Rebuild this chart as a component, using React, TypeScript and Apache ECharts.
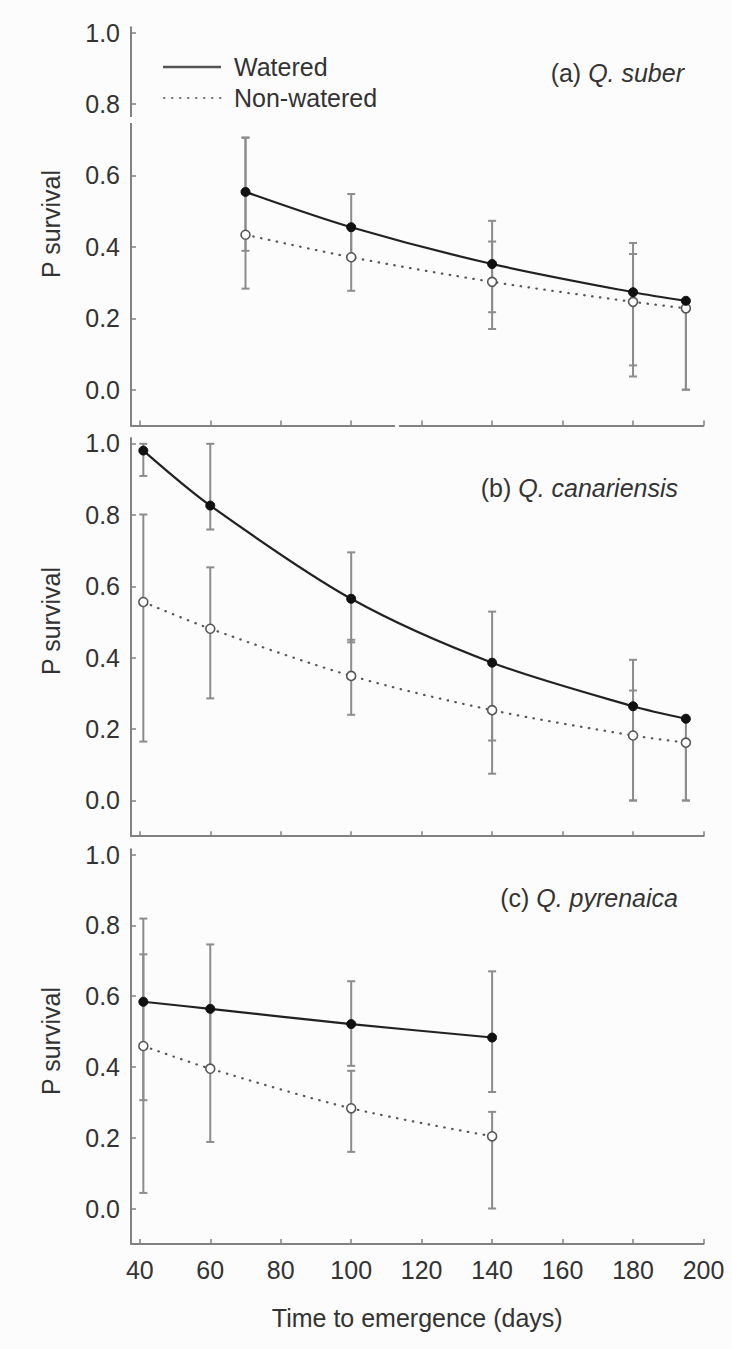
import React, { useEffect, useRef } from "react";
import * as echarts from "echarts";

const xTicks = [40, 60, 80, 100, 120, 140, 160, 180, 200];
const yTicks = [0, 0.2, 0.4, 0.6, 0.8, 1.0];

// (a) Q. suber
const daysA = [70, 100, 140, 180, 195];
const wateredA = [0.554, 0.455, 0.352, 0.273, 0.249];
const wateredLowA = [0.389, 0.371, 0.217, 0.068, 0.0];
const wateredHighA = [0.706, 0.548, 0.473, 0.411, 0.249];
const nonA = [0.434, 0.371, 0.302, 0.246, 0.228];
const nonLowA = [0.283, 0.277, 0.17, 0.037, 0.0];
const nonHighA = [0.706, 0.456, 0.415, 0.38, 0.228];

// (b) Q. canariensis
const daysB = [41, 60, 100, 140, 180, 195];
const wateredB = [0.98, 0.826, 0.565, 0.386, 0.264, 0.229];
const wateredLowB = [0.909, 0.759, 0.443, 0.168, 0.0, 0.0];
const wateredHighB = [0.999, 0.999, 0.695, 0.529, 0.394, 0.229];
const nonB = [0.556, 0.481, 0.349, 0.253, 0.182, 0.162];
const nonLowB = [0.165, 0.286, 0.24, 0.075, 0.0, 0.0];
const nonHighB = [0.801, 0.653, 0.45, 0.386, 0.308, 0.162];

// (c) Q. pyrenaica
const daysC = [41, 60, 100, 140];
const wateredC = [0.584, 0.564, 0.521, 0.483];
const wateredLowC = [0.306, 0.395, 0.403, 0.329];
const wateredHighC = [0.819, 0.746, 0.642, 0.67];
const nonC = [0.459, 0.395, 0.283, 0.204];
const nonLowC = [0.044, 0.188, 0.16, 0.0];
const nonHighC = [0.718, 0.564, 0.389, 0.273];

const panelTitles = ["(a) {i|Q. suber}", "(b) {i|Q. canariensis}", "(c) {i|Q. pyrenaica}"];
const legendNames = ["Watered", "Non-watered"];
const yTitle = "P survival";
const xTitle = "Time to emergence (days)";

const FONT = "'Liberation Sans', Arial, Helvetica, sans-serif";
const FS = 25;
const BG = "#fcfcfc";
const AXIS = "#828282";
const TEXT = "#333333";

export default function App() {
  const ref = useRef<HTMLDivElement>(null);

  useEffect(() => {
    if (!ref.current) return;
    const chart = echarts.init(ref.current, undefined, { renderer: "svg" });

    const panels = [
      { days: daysA, w: wateredA, wl: wateredLowA, wh: wateredHighA, n: nonA, nl: nonLowA, nh: nonHighA },
      { days: daysB, w: wateredB, wl: wateredLowB, wh: wateredHighB, n: nonB, nl: nonLowB, nh: nonHighB },
      { days: daysC, w: wateredC, wl: wateredLowC, wh: wateredHighC, n: nonC, nl: nonLowC, nh: nonHighC },
    ];

    const grids = [
      { left: 131, right: 28.5, top: 27.3, height: 398.1 },
      { left: 131, right: 28.5, top: 438.1, height: 398.1 },
      { left: 131, right: 28.5, top: 849.2, height: 394.7 },
    ];

    const xAxes = grids.map((_, i) => ({
      gridIndex: i,
      type: "value",
      min: 37.5,
      max: 200,
      position: "bottom",
      axisLine: { show: true, onZero: false, lineStyle: { color: AXIS, width: 2 } },
      axisTick: { show: true, inside: true, length: 5, customValues: xTicks, lineStyle: { color: AXIS, width: 1.5 } },
      axisLabel: {
        show: i === 2,
        customValues: xTicks,
        fontSize: FS,
        fontFamily: FONT,
        color: TEXT,
        margin: 14,
      },
      splitLine: { show: false },
      name: i === 2 ? xTitle : "",
      nameLocation: "middle",
      nameGap: 62,
      nameTextStyle: { fontSize: FS, fontFamily: FONT, color: TEXT },
    }));

    const yAxes = grids.map((_, i) => ({
      gridIndex: i,
      type: "value",
      min: -0.1,
      max: 1.015,
      axisLine: { show: true, onZero: false, lineStyle: { color: AXIS, width: 2 } },
      axisTick: { show: true, inside: true, length: 5, customValues: yTicks, lineStyle: { color: AXIS, width: 1.5 } },
      axisLabel: {
        customValues: yTicks,
        formatter: (v: number) => v.toFixed(1),
        fontSize: FS,
        fontFamily: FONT,
        color: TEXT,
        margin: 11,
      },
      splitLine: { show: false },
    }));

    const errorRender = (params: any, api: any) => {
      const x = api.value(0);
      const lo = api.value(1);
      const hi = api.value(2);
      const top = api.coord([x, hi]);
      const bot = api.coord([x, lo]);
      const w = 4;
      const style = { stroke: "#8c8c8c", lineWidth: 2, fill: "none" };
      return {
        type: "group",
        children: [
          { type: "line", shape: { x1: top[0], y1: top[1], x2: bot[0], y2: bot[1] }, style },
          { type: "line", shape: { x1: top[0] - w, y1: top[1], x2: top[0] + w, y2: top[1] }, style },
          { type: "line", shape: { x1: bot[0] - w, y1: bot[1], x2: bot[0] + w, y2: bot[1] }, style },
        ],
      };
    };

    const series: any[] = [];
    panels.forEach((p, i) => {
      series.push({
        type: "custom",
        name: legendNames[1] + " error",
        xAxisIndex: i,
        yAxisIndex: i,
        z: 1,
        renderItem: errorRender,
        encode: { x: 0, y: [1, 2] },
        data: p.days.map((d, k) => [d, p.nl[k], p.nh[k]]),
      });
      series.push({
        type: "custom",
        name: legendNames[0] + " error",
        xAxisIndex: i,
        yAxisIndex: i,
        z: 1,
        renderItem: errorRender,
        encode: { x: 0, y: [1, 2] },
        data: p.days.map((d, k) => [d, p.wl[k], p.wh[k]]),
      });
      series.push({
        type: "line",
        name: legendNames[1],
        xAxisIndex: i,
        yAxisIndex: i,
        z: 3,
        smooth: 0.3,
        symbol: "circle",
        symbolSize: 9,
        showSymbol: true,
        lineStyle: { color: "#555", width: 2.2, type: [0.5, 7.5], cap: "round" },
        itemStyle: { color: "#ffffff", borderColor: "#555", borderWidth: 1.6 },
        data: p.days.map((d, k) => [d, p.n[k]]),
      });
      series.push({
        type: "line",
        name: legendNames[0],
        xAxisIndex: i,
        yAxisIndex: i,
        z: 4,
        smooth: 0.3,
        symbol: "circle",
        symbolSize: 9,
        showSymbol: true,
        lineStyle: { color: "#222", width: 2.2 },
        itemStyle: { color: "#111", borderColor: "#111", borderWidth: 1 },
        data: p.days.map((d, k) => [d, p.w[k]]),
      });
    });

    const titlePos = [
      { x: 684, y: 73 },
      { x: 678, y: 488 },
      { x: 678, y: 898 },
    ];
    const yTitleCenters = [224, 621, 1041];

    const graphic: any[] = [
      // axis breaks in panel (a)
      { type: "rect", z: 100, shape: { x: 125, y: 117, width: 12, height: 6 }, style: { fill: BG } },
      { type: "rect", z: 100, shape: { x: 395, y: 419, width: 4, height: 12 }, style: { fill: BG } },
      // legend
      { type: "line", z: 100, shape: { x1: 163, y1: 67, x2: 221, y2: 67 }, style: { stroke: "#555", lineWidth: 2.5 } },
      {
        type: "line",
        z: 100,
        shape: { x1: 164, y1: 98, x2: 221, y2: 98 },
        style: { stroke: "#777", lineWidth: 2.2, lineDash: [0.5, 7.5], lineCap: "round" },
      },
      {
        type: "text",
        z: 100,
        x: 234,
        y: 67,
        style: { text: legendNames[0], fontSize: FS, fontFamily: FONT, fill: TEXT, textAlign: "left", textVerticalAlign: "middle" },
      },
      {
        type: "text",
        z: 100,
        x: 234,
        y: 98,
        style: { text: legendNames[1], fontSize: FS, fontFamily: FONT, fill: TEXT, textAlign: "left", textVerticalAlign: "middle" },
      },
      ...yTitleCenters.map((cy) => ({
        type: "text",
        z: 100,
        x: 51,
        y: cy,
        rotation: Math.PI / 2,
        style: { text: yTitle, fontSize: FS, fontFamily: FONT, fill: TEXT, textAlign: "center", textVerticalAlign: "middle" },
      })),
      ...panelTitles.map((t, i) => ({
        type: "text",
        z: 100,
        x: titlePos[i].x,
        y: titlePos[i].y,
        style: {
          text: t,
          fontSize: FS,
          fontFamily: FONT,
          fill: TEXT,
          textAlign: "right",
          textVerticalAlign: "middle",
          rich: { i: { fontSize: FS, fontFamily: FONT, fontStyle: "italic", fill: TEXT, color: TEXT } },
        },
      })),
    ];

    chart.setOption({
      animation: false,
      backgroundColor: BG,
      grid: grids,
      xAxis: xAxes,
      yAxis: yAxes,
      series,
      graphic,
    });

    return () => chart.dispose();
  }, []);

  return (
    <div
      ref={ref}
      style={{ position: "absolute", left: 0, top: 0, width: 732, height: 1349 }}
    />
  );
}
